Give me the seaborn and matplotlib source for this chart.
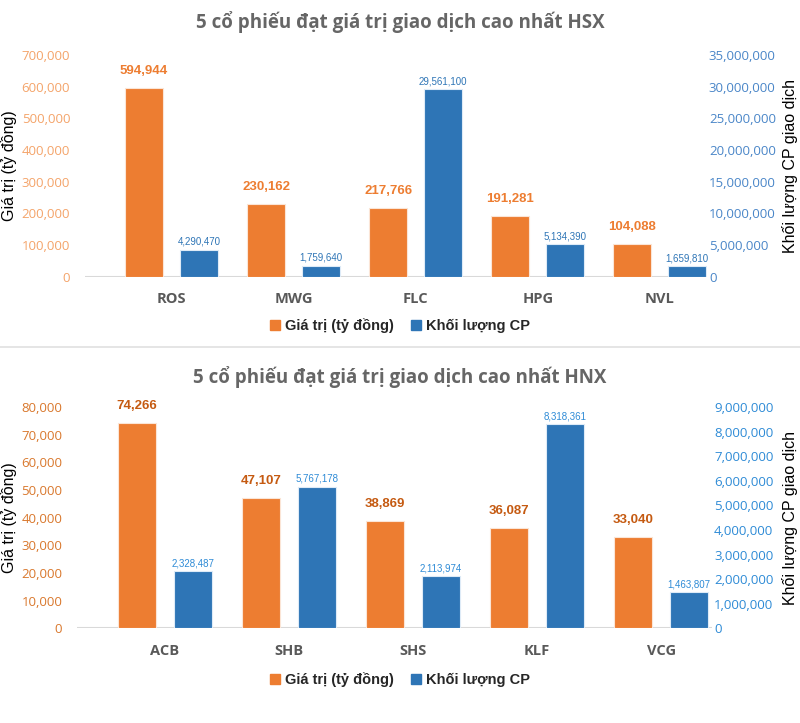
import matplotlib
matplotlib.use("Agg")
import matplotlib.pyplot as plt
from matplotlib.lines import Line2D
from matplotlib.patches import Patch
import seaborn as sns
import pandas as pd
import numpy as np

# HSX data
hsx_codes = ["ROS", "MWG", "FLC", "HPG", "NVL"]
hsx_value = [594944, 230162, 217766, 191281, 104088]
hsx_volume = [4290470, 1759640, 29561100, 5134390, 1659810]

# HNX data
hnx_codes = ["ACB", "SHB", "SHS", "KLF", "VCG"]
hnx_value = [74266, 47107, 38869, 36087, 33040]
hnx_volume = [2328487, 5767178, 2113974, 8318361, 1463807]

lbl_val = "Giá trị (tỷ đồng)"
lbl_vol = "Khối lượng CP"

ORANGE = "#ED7D31"
BLUE = "#2E75B6"
BAR_W = 0.31
OFFSET = 0.225

sns.set_theme(style="white")
plt.rcParams["font.family"] = ["Open Sans", "DejaVu Sans"]

fig = plt.figure(figsize=(8, 7.23), dpi=100)


def panel(rect, xlim, codes, values, volumes, ylim1, step1, ylim2, step2,
          title, title_y, legend_y, tick_c1, tick_c2, lab_c1, lab_c2):
    ax = fig.add_axes(rect)
    ax2 = ax.twinx()
    idx = np.arange(len(codes))
    df1 = pd.DataFrame({"x": idx - OFFSET, "v": values})
    df2 = pd.DataFrame({"x": idx + OFFSET, "v": volumes})
    sns.barplot(data=df1, x="x", y="v", native_scale=True, width=BAR_W,
                color=ORANGE, saturation=1, ax=ax,
                edgecolor="#FBE5D6", linewidth=0.8)
    sns.barplot(data=df2, x="x", y="v", native_scale=True, width=BAR_W,
                color=BLUE, saturation=1, ax=ax2,
                edgecolor="#DEEBF7", linewidth=0.8)
    for c in ax.containers:
        ax.bar_label(c, fmt="{:,.0f}", padding=8, color=lab_c1,
                     fontsize=9.5, fontweight="bold",
                     family=["Liberation Sans", "DejaVu Sans"])
    for c in ax2.containers:
        ax2.bar_label(c, fmt="{:,.0f}", padding=2, color=lab_c2,
                      fontsize=7,
                      family=["Liberation Sans", "DejaVu Sans"])
    ax.set_xticks(idx, codes)
    ax.set_xlim(*xlim)
    ax.set_ylim(0, ylim1)
    ax2.set_ylim(0, ylim2)
    ax.set_yticks(range(0, ylim1 + 1, step1))
    ax2.set_yticks(range(0, ylim2 + 1, step2))
    ax.yaxis.set_major_formatter(matplotlib.ticker.StrMethodFormatter("{x:,.0f}"))
    ax2.yaxis.set_major_formatter(matplotlib.ticker.StrMethodFormatter("{x:,.0f}"))
    ax.tick_params(axis="y", colors=tick_c1, labelsize=9.5, length=0, pad=10.5)
    ax2.tick_params(axis="y", colors=tick_c2, labelsize=9.5, length=0, pad=1.5)
    ax.tick_params(axis="x", colors="#595959", labelsize=10.5, length=0, pad=11)
    for t in ax.get_xticklabels():
        t.set_fontweight("bold")
    ax.set_xlabel("")
    ax2.set_xlabel("")
    ylab_font = ["Liberation Sans", "DejaVu Sans"]
    ax.set_ylabel("Giá trị (tỷ đồng)", fontsize=11.5, color="black", family=ylab_font)
    ax2.set_ylabel("Khối lượng CP giao dịch", fontsize=11.5, color="black", family=ylab_font)
    w = rect[2] * 800
    x0 = rect[0] * 800
    ax.yaxis.set_label_coords((17 - x0) / w, 0.5)
    ax2.yaxis.set_label_coords((782 - x0) / w, 0.5)
    for a in (ax, ax2):
        for s in a.spines.values():
            s.set_visible(False)
        a.grid(False)
    ax.axhline(0, color="#D9D9D9", linewidth=1.5, zorder=0)
    fig.text(0.5, title_y, title, ha="center", va="center", fontsize=13.5,
             fontweight="bold", color="#666666")
    handles = [Patch(color=ORANGE, label=lbl_val), Patch(color=BLUE, label=lbl_vol)]
    fig.legend(handles=handles, loc="center", bbox_to_anchor=(0.5, legend_y),
               ncol=2, frameon=False, handlelength=0.7, handleheight=0.7,
               handletextpad=0.3, columnspacing=1.2,
               prop={"size": 10.5, "weight": "bold", "family": ["Liberation Sans", "DejaVu Sans"]})
    return ax, ax2


panel([0.106, 0.617, 0.7775, 0.307], (-0.71, 4.385), hsx_codes, hsx_value, hsx_volume,
      700000, 100000, 35000000, 5000000,
      "5 cổ phiếu đạt giá trị giao dịch cao nhất HSX", 1 - 22 / 723, 1 - 326 / 723,
      "#F4A46A", "#4A86C8", "#ED7D31", "#2E75B6")

panel([0.096, 0.131, 0.794, 0.306], (-0.71, 4.41), hnx_codes, hnx_value, hnx_volume,
      80000, 10000, 9000000, 1000000,
      "5 cổ phiếu đạt giá trị giao dịch cao nhất HNX", 1 - 377 / 723, 1 - 680 / 723,
      "#D9782D", "#2E8BD6", "#C55A11", "#2E8BD6")

fig.add_artist(Line2D([0, 1], [1 - 347 / 723, 1 - 347 / 723], color="#E0E0E0",
                      linewidth=1.2, transform=fig.transFigure))

fig.savefig("out.png", dpi=100)
